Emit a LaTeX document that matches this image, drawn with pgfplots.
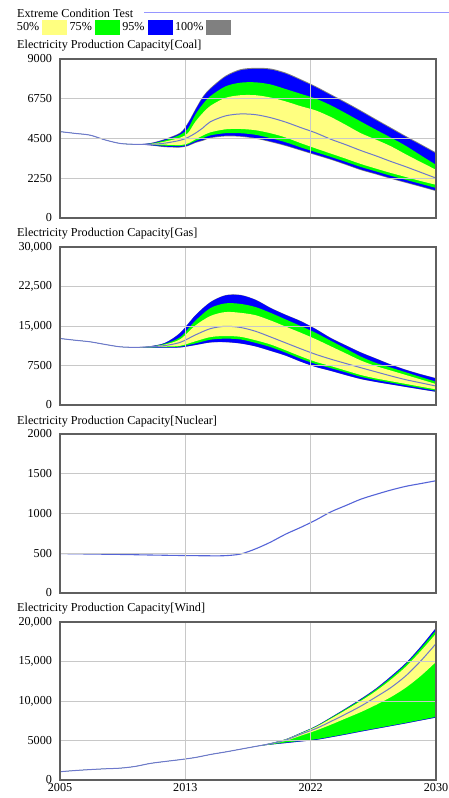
\documentclass[border=0pt]{standalone}
\usepackage{fontspec}
\setmainfont{Liberation Serif}
\usepackage{pgfplots}
\pgfplotsset{compat=1.18}
\usepgfplotslibrary{fillbetween}
\usepackage{pgfplotstable}

\definecolor{bandY}{RGB}{255,255,128}
\definecolor{bandG}{RGB}{0,255,0}
\definecolor{bandB}{RGB}{0,0,255}
\definecolor{bandK}{RGB}{128,128,128}
\definecolor{baseln}{RGB}{110,120,205}
\definecolor{nucln}{RGB}{85,100,215}
\definecolor{titleline}{RGB}{150,150,255}
\definecolor{gridc}{RGB}{200,200,200}
\definecolor{framec}{RGB}{95,95,95}

\pgfplotstableread{
yr mn p2 p12 p25 base p75 p87 p97 mx
2005 4890 4890 4890 4890 4890 4890 4890 4890 4890
2006 4790 4790 4790 4790 4790 4790 4790 4790 4790
2007 4690 4690 4690 4690 4690 4690 4690 4690 4690
2008 4420 4420 4420 4420 4420 4420 4420 4420 4420
2009 4220 4220 4220 4220 4220 4220 4220 4220 4220
2010 4170 4170 4170 4170 4170 4170 4170 4170 4170
2011 4110 4120 4140 4155 4170 4190 4210 4230 4240
2012 4010 4040 4090 4150 4240 4330 4400 4450 4480
2013 3990 4020 4070 4130 4400 4550 4720 4800 4840
2013.5 4070 4100 4160 4220 4560 4800 5050 5330 5380
2014 4250 4290 4360 4450 4800 5450 5850 6100 6160
2014.5 4370 4410 4520 4670 5100 5950 6450 6820 6880
2015 4520 4560 4680 4850 5450 6350 6900 7300 7360
2016 4620 4660 4800 5020 5780 6800 7450 7990 8050
2017 4600 4640 4800 5040 5890 6950 7660 8360 8420
2018 4490 4530 4710 4970 5850 6950 7680 8440 8500
2019 4300 4340 4520 4800 5680 6820 7560 8400 8460
2020 4080 4120 4290 4560 5430 6600 7300 8170 8230
2021 3820 3860 4000 4240 5120 6330 7030 7800 7860
2022 3560 3600 3730 3940 4820 6090 6760 7400 7460
2023 3300 3340 3460 3650 4460 5720 6380 6950 7010
2024 3010 3050 3180 3360 4150 5270 5930 6500 6560
2025 2710 2750 2890 3060 3820 4800 5460 6030 6090
2026 2470 2510 2640 2800 3520 4440 5000 5540 5600
2027 2220 2260 2390 2550 3200 4060 4550 5060 5120
2028 1990 2030 2160 2320 2900 3600 4080 4580 4640
2029 1760 1800 1930 2090 2580 3160 3540 4120 4180
2030 1520 1560 1700 1880 2260 2730 3010 3650 3710
}\coal

\pgfplotstableread{
yr mn p2 p12 p25 base p75 p87 p97 mx
2005 12630 12630 12630 12630 12630 12630 12630 12630 12630
2006 12300 12300 12300 12300 12300 12300 12300 12300 12300
2007 12000 12000 12000 12000 12000 12000 12000 12000 12000
2008 11500 11500 11500 11500 11500 11500 11500 11500 11500
2009 11050 11050 11050 11050 11050 11050 11050 11050 11050
2010 10950 10950 10950 10950 10950 10950 10950 10950 10950
2011 10880 10900 10950 11000 11050 11080 11100 11150 11170
2012 10880 10900 11000 11100 11300 11500 11650 11800 11830
2013 10920 10950 11100 11250 11900 12500 12900 13700 13750
2014 11370 11400 11700 12100 13300 15100 16000 17000 17060
2015 11870 11900 12400 12900 14500 16900 18400 19500 19560
2016 11920 11950 12600 13100 14950 17650 19300 20800 20860
2017 11670 11700 12450 12950 14720 17500 19200 20850 20910
2018 11120 11150 11800 12300 14000 17050 18600 19950 20010
2019 10270 10300 11000 11500 12920 16050 17500 18400 18460
2020 9370 9400 9950 10400 11800 14890 16250 17100 17160
2021 8220 8250 8800 9250 10680 13730 15000 15900 15960
2022 7220 7250 7800 8200 9620 12500 13700 14400 14460
2023 6470 6500 7000 7400 8710 11150 12200 12700 12760
2024 5670 5700 6200 6550 7890 9800 10700 11300 11360
2025 4920 4950 5350 5700 7080 8450 9200 9950 10010
2026 4370 4400 4750 5050 6300 7390 8000 8800 8860
2027 3890 3920 4250 4520 5520 6540 7100 7650 7710
2028 3420 3450 3720 4000 4800 5690 6200 6650 6710
2029 2950 2980 3220 3480 4200 4840 5300 5800 5860
2030 2500 2530 2720 2970 3600 3980 4420 5050 5110
}\gas

\pgfplotstableread{
yr base
2005 496
2007 490
2009 485
2011 478
2013 472
2015 468
2016 470
2017 490
2018 555
2019 640
2020 740
2021 825
2022 917
2023 1020
2024 1100
2025 1180
2026 1240
2027 1295
2028 1342
2029 1377
2030 1412
}\nuclear

\pgfplotstableread{
yr mn p2 p12 p25 base p75 p87 p97 mx
2005 1050 1050 1050 1050 1050 1050 1050 1050 1050
2006 1200 1200 1200 1200 1200 1200 1200 1200 1200
2007 1320 1320 1320 1320 1320 1320 1320 1320 1320
2008 1420 1420 1420 1420 1420 1420 1420 1420 1420
2009 1500 1500 1500 1500 1500 1500 1500 1500 1500
2010 1720 1720 1720 1720 1720 1720 1720 1720 1720
2011 2100 2100 2100 2100 2100 2100 2100 2100 2100
2012 2350 2350 2350 2350 2350 2350 2350 2350 2350
2013 2580 2580 2580 2580 2580 2580 2580 2580 2580
2014 2850 2850 2850 2850 2850 2850 2850 2850 2850
2015 3230 3230 3230 3230 3230 3230 3230 3230 3230
2016 3550 3550 3550 3550 3550 3550 3550 3550 3550
2017 3900 3900 3900 3900 3900 3900 3900 3900 3900
2018 4250 4250 4250 4250 4250 4250 4250 4250 4250
2019 4480 4490 4500 4560 4600 4630 4640 4650 4660
2020 4670 4680 4750 4950 5050 5120 5140 5150 5160
2021 4870 4880 4950 5600 5800 5880 5920 5950 5960
2022 5070 5080 5150 6250 6500 6700 6760 6800 6820
2023 5400 5410 5480 7000 7400 7750 7850 7900 7920
2024 5750 5760 5830 7800 8350 8850 8980 9050 9070
2025 6120 6130 6200 8600 9350 10000 10150 10250 10280
2026 6470 6480 6550 9500 10500 11250 11450 11550 11580
2027 6820 6830 6900 10500 11700 12700 12950 13100 13130
2028 7170 7180 7250 11700 13200 14350 14650 14800 14830
2029 7540 7550 7620 13200 15100 16350 16700 16900 16930
2030 7900 7910 8000 14950 17260 18520 18950 19240 19280
}\wind

\pgfplotsset{
  panel/.style={
    scale only axis, width=376bp,
    xmin=2005, xmax=2030,
    xtick={2005,2013.3333,2021.6667,2030},
    xticklabels={},
    scaled y ticks=false, scaled x ticks=false,
    grid=major,
    grid style={gridc, line width=1bp},
    axis on top,
    major tick length=0pt,
    axis line style={framec, line width=1.3bp},
    tick label style={font=\fontsize{12.2}{14}\selectfont, text=black},
    yticklabel style={xshift=-4.5bp},
  },
}

\newcommand{\bands}[2]{%
  \addplot[draw=none, smooth, name path=#2mn] table[x=yr,y=mn]{#1};
  \addplot[draw=none, smooth, name path=#2mx] table[x=yr,y=mx]{#1};
  \addplot[draw=none, smooth, name path=#2pa] table[x=yr,y=p2]{#1};
  \addplot[draw=none, smooth, name path=#2pb] table[x=yr,y=p97]{#1};
  \addplot[draw=none, smooth, name path=#2pc] table[x=yr,y=p12]{#1};
  \addplot[draw=none, smooth, name path=#2pd] table[x=yr,y=p87]{#1};
  \addplot[draw=none, smooth, name path=#2pe] table[x=yr,y=p25]{#1};
  \addplot[draw=none, smooth, name path=#2pf] table[x=yr,y=p75]{#1};
  \addplot[fill=bandK, draw=none] fill between[of=#2mx and #2mn];
  \addplot[fill=bandB, draw=none] fill between[of=#2pb and #2pa];
  \addplot[fill=bandG, draw=none] fill between[of=#2pd and #2pc];
  \addplot[fill=bandY, draw=none] fill between[of=#2pf and #2pe];
  \addplot[baseln, line width=1bp, smooth] table[x=yr,y=base]{#1};
}

\begin{document}
\begin{tikzpicture}[font=\fontsize{12.2}{14}\selectfont]

\node[anchor=base west, inner sep=0pt] at (17bp,-17.5bp) {Extreme Condition Test};
\draw[titleline, line width=1.6bp] (144bp,-12.5bp) -- (449bp,-12.5bp);

\node[anchor=base west, inner sep=0pt] at (17bp,-48bp) {Electricity Production Capacity[Coal]};
\node[anchor=base west, inner sep=0pt] at (17bp,-236bp) {Electricity Production Capacity[Gas]};
\node[anchor=base west, inner sep=0pt] at (17bp,-424bp) {Electricity Production Capacity[Nuclear]};
\node[anchor=base west, inner sep=0pt] at (17bp,-611bp) {Electricity Production Capacity[Wind]};

% Coal
\begin{axis}[panel, at={(60bp,-218bp)}, anchor=south west, height=159bp,
  ymin=0, ymax=9000, ytick={0,2250,4500,6750,9000},
  yticklabels={0,2250,4500,6750,9000},
  legend plot pos=right,
  legend columns=4,
  legend style={at={(-0.1144,1.243)}, anchor=north west, draw=none, fill=none,
    inner sep=0pt, outer sep=0pt, font=\fontsize{12.2}{14}\selectfont,
    /tikz/column sep=3bp, nodes={inner sep=0pt}},
]
\addlegendimage{legend image code/.code={\fill[bandY] (0bp,-6.6bp) rectangle (24bp,6.6bp);}}
\addlegendentry{50\%}
\addlegendimage{legend image code/.code={\fill[bandG] (0bp,-6.6bp) rectangle (24bp,6.6bp);}}
\addlegendentry{75\%}
\addlegendimage{legend image code/.code={\fill[bandB] (0bp,-6.6bp) rectangle (24bp,6.6bp);}}
\addlegendentry{95\%}
\addlegendimage{legend image code/.code={\fill[bandK] (0bp,-6.6bp) rectangle (24bp,6.6bp);}}
\addlegendentry{100\%}
\bands{\coal}{c}
\end{axis}

% Gas
\begin{axis}[panel, at={(60bp,-405bp)}, anchor=south west, height=158bp,
  ymin=0, ymax=30000, ytick={0,7500,15000,22500,30000},
  yticklabels={0,7500,{15,000},{22,500},{30,000}},
]
\bands{\gas}{g}
\end{axis}

% Nuclear
\begin{axis}[panel, at={(60bp,-593bp)}, anchor=south west, height=159bp,
  ymin=0, ymax=2000, ytick={0,500,1000,1500,2000},
  yticklabels={0,500,1000,1500,2000},
]
\addplot[nucln, line width=1.1bp, smooth] table[x=yr,y=base]{\nuclear};
\end{axis}

% Wind
\begin{axis}[panel, at={(60bp,-780bp)}, anchor=south west, height=158bp,
  ymin=0, ymax=20000, ytick={0,5000,10000,15000,20000},
  yticklabels={0,5000,{10,000},{15,000},{20,000}},
  xticklabels={2005,2013,2022,2030},
]
\bands{\wind}{w}
\end{axis}

\pgfresetboundingbox
\path[use as bounding box] (0,0) rectangle (449bp,-798bp);
\end{tikzpicture}
\end{document}
